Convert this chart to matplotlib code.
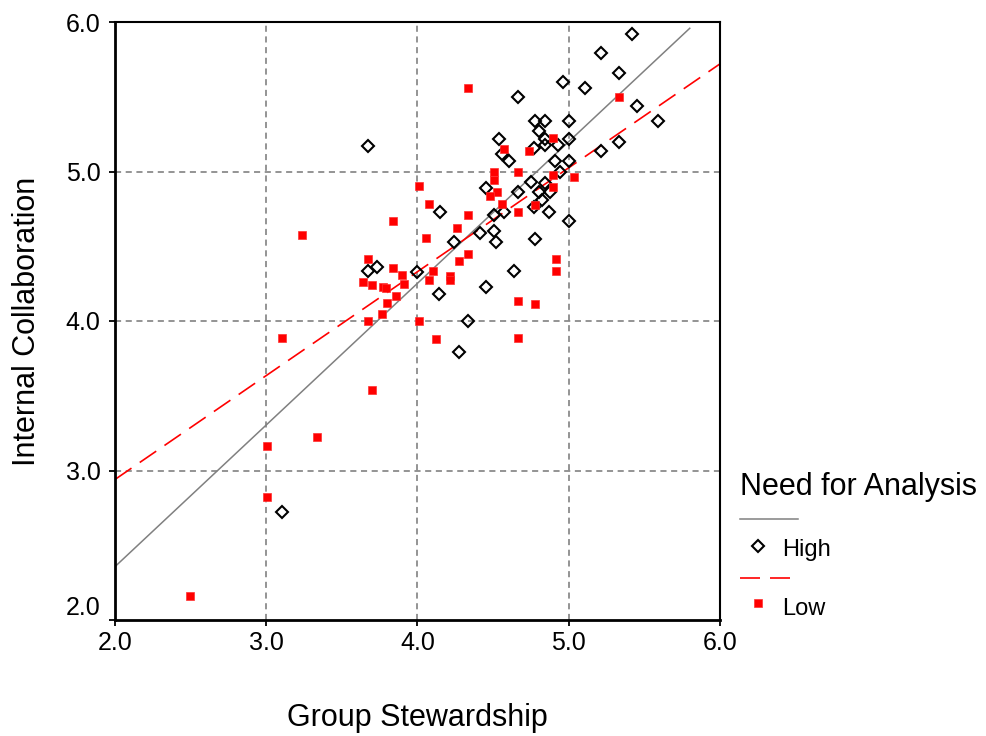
import matplotlib
matplotlib.use("Agg")
import matplotlib.pyplot as plt

plt.rcParams['font.family'] = ['Liberation Sans', 'DejaVu Sans']

# Need for Analysis = High (open diamonds)
high_x = [5.415, 5.21, 5.335, 4.965, 5.11, 4.665, 5.45, 5.59, 4.78, 4.84, 5.0, 4.805,
          4.54, 4.84, 4.84, 4.93, 5.0, 5.335, 5.21, 4.77, 4.56, 4.605, 4.91, 5.0, 4.94,
          4.45, 4.75, 4.84, 4.665, 4.875, 4.80, 4.82, 4.77, 4.575, 4.505, 4.87, 5.0,
          4.41, 4.505, 4.52, 4.24, 4.78, 4.15, 4.0, 4.635, 4.45, 4.14, 4.335, 4.275,
          3.675, 3.735, 3.675, 3.105]
high_y = [5.92, 5.79, 5.66, 5.60, 5.56, 5.50, 5.44, 5.34, 5.34, 5.34, 5.34, 5.27,
          5.22, 5.215, 5.18, 5.18, 5.22, 5.195, 5.14, 5.155, 5.115, 5.07, 5.07, 5.07, 5.0,
          4.89, 4.93, 4.92, 4.865, 4.865, 4.865, 4.81, 4.765, 4.73, 4.71, 4.73, 4.67,
          4.59, 4.60, 4.53, 4.53, 4.55, 4.73, 4.33, 4.335, 4.23, 4.18, 4.0, 3.795,
          4.335, 4.36, 5.17, 2.72]

# Need for Analysis = Low (red squares)
low_x = [4.01, 4.075, 3.835, 3.234, 4.053, 3.67, 3.64, 3.697, 3.835, 3.895, 3.912,
         3.773, 3.79, 3.857, 3.80, 3.763, 3.67, 4.01, 4.077, 4.10, 4.125, 4.331, 5.333,
         4.897, 4.573, 4.736, 4.505, 4.666, 4.505, 4.527, 4.478, 4.897, 5.033, 4.897,
         4.56, 4.78, 4.666, 4.331, 4.258, 4.331, 4.274, 4.214, 4.214, 4.919, 4.919,
         4.666, 4.78, 4.666, 3.106, 3.697, 3.337, 3.007, 3.007, 2.496]
low_y = [4.905, 4.78, 4.67, 4.577, 4.555, 4.415, 4.26, 4.24, 4.357, 4.31, 4.25,
         4.23, 4.22, 4.17, 4.12, 4.05, 4.0, 4.0, 4.275, 4.335, 3.877, 5.56, 5.50,
         5.222, 5.15, 5.14, 5.0, 5.0, 4.94, 4.86, 4.836, 4.977, 4.965, 4.894,
         4.78, 4.776, 4.73, 4.71, 4.624, 4.448, 4.40, 4.303, 4.274, 4.415, 4.335,
         4.134, 4.112, 3.888, 3.888, 3.54, 3.222, 3.166, 2.825, 2.16]

# fit lines (end points)
high_fit_x = [2.0, 5.8]
high_fit_y = [2.357, 5.958]
low_fit_x = [2.0, 6.0]
low_fit_y = [2.94, 5.72]

ticks = [2.0, 3.0, 4.0, 5.0, 6.0]
tick_labels = ['2.0', '3.0', '4.0', '5.0', '6.0']

RED = '#ff0000'
GRAY = '#808080'


def main():
    fig = plt.figure(figsize=(9.87, 7.36), dpi=100)
    ax = fig.add_axes([115 / 987, 1 - 620 / 736, 605 / 987, 598 / 736])

    ax.set_xlim(2.0, 6.0)
    ax.set_ylim(2.0, 6.0)

    # grid
    for t in ticks[1:-1]:
        ax.axvline(t, color='#777777', lw=1.1, ls=(0, (4, 3)), zorder=1)
        ax.axhline(t, color='#777777', lw=1.1, ls=(0, (4, 3)), zorder=1)

    # fit lines
    ax.plot(high_fit_x, high_fit_y, color=GRAY, lw=1.1, zorder=2)
    ax.plot(low_fit_x, low_fit_y, color=RED, lw=1.2, ls=(0, (12, 6)), zorder=2)

    # points
    ax.plot(high_x, high_y, ls='none', marker='D', ms=5.8, mfc='none',
            mec='black', mew=1.5, zorder=3)
    ax.plot(low_x, low_y, ls='none', marker='s', ms=5.2, mfc=RED,
            mec='#ff3030', mew=0.5, zorder=4)

    ax.set_xticks(ticks)
    ax.set_xticklabels(tick_labels)
    ax.set_yticks(ticks)
    ax.set_yticklabels(tick_labels)
    ax.tick_params(axis='both', direction='out', length=4.5, width=1.3,
                   labelsize=18, color='black')
    ax.tick_params(axis='x', pad=3.5)
    ax.tick_params(axis='y', pad=6)
    ax.get_yticklabels()[0].set_va('bottom')

    for side in ['left', 'bottom']:
        ax.spines[side].set_linewidth(2.0)
    for side in ['top', 'right']:
        ax.spines[side].set_linewidth(1.5)

    ax.set_xlabel('Group Stewardship', fontsize=22, va='center')
    ax.xaxis.set_label_coords(0.5, -0.164)
    ax.set_ylabel('Internal Collaboration', fontsize=22, va='center')
    ax.yaxis.set_label_coords(-0.145, 0.5)

    # legend drawn by hand in pixel space on an overlay axes
    lax = fig.add_axes([0, 0, 1, 1])
    lax.set_xlim(0, 987)
    lax.set_ylim(736, 0)
    lax.axis('off')
    lax.text(740, 495, 'Need for Analysis', fontsize=22, va='baseline', ha='left')
    lax.plot([740, 798], [519, 519], color=GRAY, lw=1.1)
    lax.plot([758], [546], ls='none', marker='D', ms=5.8, mfc='none', mec='black', mew=1.5)
    lax.text(782, 556, 'High', fontsize=17, va='baseline', ha='left')
    lax.plot([740, 800], [578, 578], color=RED, lw=1.2, ls=(0, (12, 6)))
    lax.plot([758], [603], ls='none', marker='s', ms=5.2, mfc=RED, mec='#ff3030', mew=0.5)
    lax.text(782, 615, 'Low', fontsize=17, va='baseline', ha='left')

    fig.savefig('out.png', dpi=100)


if __name__ == "__main__":
    main()
